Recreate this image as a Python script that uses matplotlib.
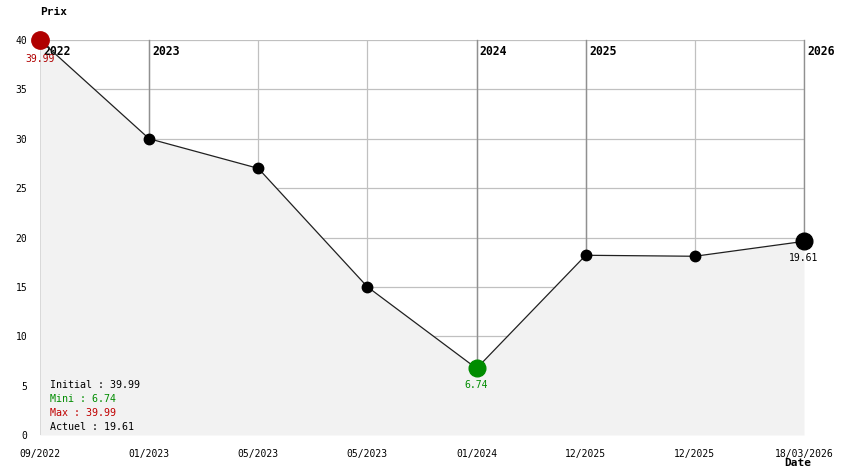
import matplotlib
matplotlib.use("Agg")
import matplotlib.pyplot as plt

dates = ["09/2022", "01/2023", "05/2023", "05/2023", "01/2024", "12/2025", "12/2025", "18/03/2026"]
prices = [39.99, 30.0, 27.0, 15.0, 6.74, 18.2, 18.1, 19.61]
year_idx = [0, 1, 4, 5, 7]
year_lbl = ["2022", "2023", "2024", "2025", "2026"]
y_ticks = [0, 5, 10, 15, 20, 25, 30, 35, 40]

FONT = "DejaVu Sans Mono"
RED = "#b00000"
GREEN = "#008c00"

fig = plt.figure(figsize=(8.44, 4.74), dpi=100)
ax = fig.add_axes([40/844, 1-435/474, 764/844, 395/474])
x = list(range(len(prices)))
n = len(prices) - 1
ax.set_xlim(0, n)
ax.set_ylim(0, 40)
for s in ax.spines.values():
    s.set_visible(False)

# grid
for yt in y_ticks:
    ax.axhline(yt, color="#c0c0c0", lw=0.9, zorder=1)
for xi in x:
    ax.axvline(xi, color="#c0c0c0", lw=0.9, zorder=1)
ax.fill_between(x, prices, 0, color="#f2f2f2", lw=0, zorder=2)
# year lines
for xi, lbl in zip(year_idx, year_lbl):
    ax.plot([xi, xi], [prices[xi], 40], color="#909090", lw=1.0, zorder=3, clip_on=False)
    ax.text(xi + 0.03, 39.5, lbl, fontfamily=FONT, fontweight="bold", fontsize=8.3,
            ha="left", va="top", zorder=4)

ax.plot(x, prices, color="#202020", lw=0.9, zorder=5)
i_min = prices.index(min(prices))
i_max = prices.index(max(prices))
for xi, v in zip(x, prices):
    if xi == i_max:
        ax.plot(xi, v, "o", color=RED, ms=12.5, zorder=6, clip_on=False)
    elif xi == i_min:
        ax.plot(xi, v, "o", color=GREEN, ms=12, zorder=6, clip_on=False)
    elif xi == n:
        ax.plot(xi, v, "o", color="black", ms=12, zorder=6, clip_on=False)
    else:
        ax.plot(xi, v, "o", color="black", ms=7.5, zorder=6, clip_on=False)

ax.text(0, prices[0] - 1.45, f"{prices[0]:.2f}", color=RED, fontfamily=FONT, fontsize=7,
        ha="center", va="top", zorder=7)
ax.text(i_min, prices[i_min] - 1.2, f"{prices[i_min]:.2f}", color=GREEN, fontfamily=FONT,
        fontsize=7, ha="center", va="top", zorder=7)
ax.text(n, prices[n] - 1.2, f"{prices[n]:.2f}", color="black", fontfamily=FONT,
        fontsize=7, ha="center", va="top", zorder=7)

ax.set_xticks(x)
ax.set_xticklabels(dates, fontfamily=FONT, fontsize=7)
ax.set_yticks(y_ticks)
ax.set_yticklabels([str(v) for v in y_ticks], fontfamily=FONT, fontsize=7)
ax.tick_params(length=0, pad=10)
ax.tick_params(axis="y", pad=9)

fig.text(40/844, 1-12/474, "Prix", fontfamily=FONT, fontweight="bold", fontsize=8,
         ha="left", va="center")
fig.text(784/844, 1-463/474, "Date", fontfamily=FONT, fontweight="bold", fontsize=8,
         ha="left", va="center")

legend_lines = [(f"Initial : {prices[0]:.2f}", "black"),
                (f"Mini : {min(prices):.2f}", GREEN),
                (f"Max : {max(prices):.2f}", "#c00000"),
                (f"Actuel : {prices[-1]:.2f}", "black")]
for k, (t, c) in enumerate(legend_lines):
    fig.text(50/844, 1-(385 + 14*k)/474, t, color=c, fontfamily=FONT, fontsize=7.2,
             ha="left", va="center", zorder=10)

fig.savefig("out.png", dpi=100)
